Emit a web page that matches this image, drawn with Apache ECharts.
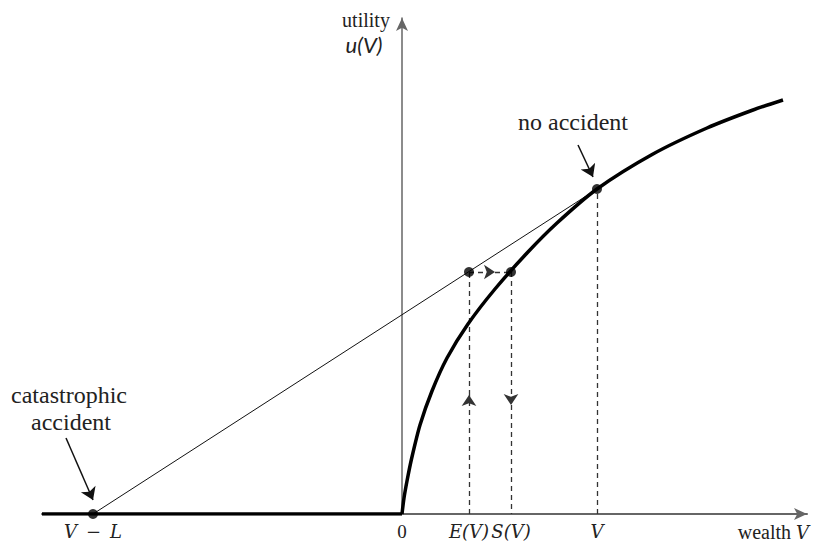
<!DOCTYPE html>
<html>
<head>
<meta charset="utf-8">
<script src="https://cdn.jsdelivr.net/npm/echarts@6/dist/echarts.min.js"></script>
<style>html,body{margin:0;padding:0;background:#fff}#c{width:815px;height:544px}</style>
</head>
<body>
<div id="c"></div>
<script>
// Utility curve u(V) (wealth, utility)
const curveWealth  = [0, 2, 5, 9.5, 18, 30, 45, 66, 93, 125, 155, 195, 251, 305, 351, 381];
const curveUtility = [0, 16, 33, 55, 89, 123, 156, 190, 225, 261, 291, 325, 360, 386, 404, 414];
// Flat part of utility (wealth below zero)
const flatWealth  = [-360, 0];
const flatUtility = [0, 0];
// Key points
const pointNames   = ['V − L', 'E(V)', 'S(V)', 'V'];
const pointWealth  = [-309, 67, 109, 195];
const pointUtility = [0, 242, 242, 325];
// Guide arrow positions on the dashed lines
const upArrowUtility = 119;
const downArrowUtility = 109;
const sideArrowWealth = 93;
// Tick labels on wealth axis
const tickValues = [-309, 0, 67, 109, 195];
const tickLabels = ['{i|V\u2002\u2212\u2002L}', '{n|0}', '{i|E(V)}', '{i|S(V)}', '{i|V}'];

const chart = echarts.init(document.getElementById('c'), null, {renderer: 'svg'});

const curveData = curveWealth.map((w, i) => [w, curveUtility[i]]);
const flatData = flatWealth.map((w, i) => [w, flatUtility[i]]);
const dots = pointWealth.map((w, i) => [w, pointUtility[i]]);
const [wL, wE, wS, wV] = pointWealth;
const [uL, uE, uS, uV] = pointUtility;

const dashStyle = {color: '#333', width: 1.3, type: [5, 4], opacity: 1, curveness: 0};
const serif = 'Liberation Serif';
function txt(x, y, text, size, extra) {
  return {type: 'text', x: x, y: y, style: Object.assign({text: text, fontFamily: serif, fontSize: size, fill: '#222', align: 'center', verticalAlign: 'middle'}, extra || {})};
}

chart.setOption({
  animation: false,
  grid: {left: 42, right: 8, top: 18, bottom: 30},
  xAxis: {
    type: 'value', min: -360, max: 405,
    splitLine: {show: false},
    axisLine: {onZero: true, lineStyle: {color: '#666', width: 2}, symbol: ['none', 'arrow'], symbolSize: [9, 13]},
    axisTick: {show: false},
    axisLabel: {
      customValues: tickValues,
      margin: 8,
      formatter: v => tickLabels[tickValues.indexOf(v)] || '',
      rich: {
        i: {fontFamily: 'DejaVu Serif', fontStyle: 'italic', fontSize: 18, color: '#222'},
        n: {fontFamily: serif, fontSize: 19, color: '#222'}
      }
    }
  },
  yAxis: {
    type: 'value', min: 0, max: 496,
    splitLine: {show: false},
    axisLine: {onZero: true, lineStyle: {color: '#666', width: 1.5}, symbol: ['none', 'arrow'], symbolSize: [9, 13]},
    axisTick: {show: false},
    axisLabel: {show: false}
  },
  series: [
    {type: 'line', data: flatData, symbol: 'none', lineStyle: {color: '#000', width: 3.5}, z: 5},
    {type: 'line', data: curveData, symbol: 'none', smooth: 0.25, lineStyle: {color: '#000', width: 3.5}, z: 5},
    {type: 'line', data: [[wL, uL], [wV, uV]], symbol: 'none', lineStyle: {color: '#111', width: 1}, z: 4},
    {type: 'lines', coordinateSystem: 'cartesian2d', polyline: false, z: 3,
      symbol: ['none', 'none'], lineStyle: dashStyle,
      data: [
        {coords: [[wE, upArrowUtility], [wE, uE]]},
        {coords: [[wS, downArrowUtility], [wS, 0]]},
        {coords: [[sideArrowWealth, uE], [wS, uS]]},
        {coords: [[wV, 0], [wV, uV]]}
      ]},
    {type: 'lines', coordinateSystem: 'cartesian2d', polyline: false, z: 3,
      symbol: ['none', 'arrow'], symbolSize: [7, 11], lineStyle: dashStyle,
      data: [
        {coords: [[wE, 0], [wE, upArrowUtility]]},
        {coords: [[wS, uS], [wS, downArrowUtility]]},
        {coords: [[wE, uE], [sideArrowWealth, uE]]}
      ]},
    {type: 'lines', coordinateSystem: 'cartesian2d', polyline: false, z: 6,
      symbol: ['none', 'arrow'], symbolSize: [8, 12],
      lineStyle: {color: '#111', width: 1.5, opacity: 1, curveness: 0},
      data: [
        {coords: [[-336, 76], [-309, 14]]},
        {coords: [[176, 369], [191, 337]]}
      ]},
    {type: 'scatter', data: dots, symbol: 'circle', symbolSize: 10, itemStyle: {color: '#000'}, z: 7}
  ],
  graphic: [
    txt(366, 20, 'utility', 20),
    txt(364, 44, 'u(V)', 22, {fontFamily: 'Lato', fontStyle: 'italic'}),
    txt(573, 122, 'no accident', 24),
    txt(69, 395, 'catastrophic', 24),
    txt(71, 422, 'accident', 24),
    {type: 'text', x: 809, y: 532, style: {
      text: '{a|wealth }{b|V}', align: 'right', verticalAlign: 'middle',
      rich: {a: {fontFamily: serif, fontSize: 20, fill: '#222', color: '#222'},
             b: {fontFamily: 'DejaVu Serif', fontStyle: 'italic', fontSize: 18, fill: '#222', color: '#222'}}
    }}
  ]
});
</script>
</body>
</html>
